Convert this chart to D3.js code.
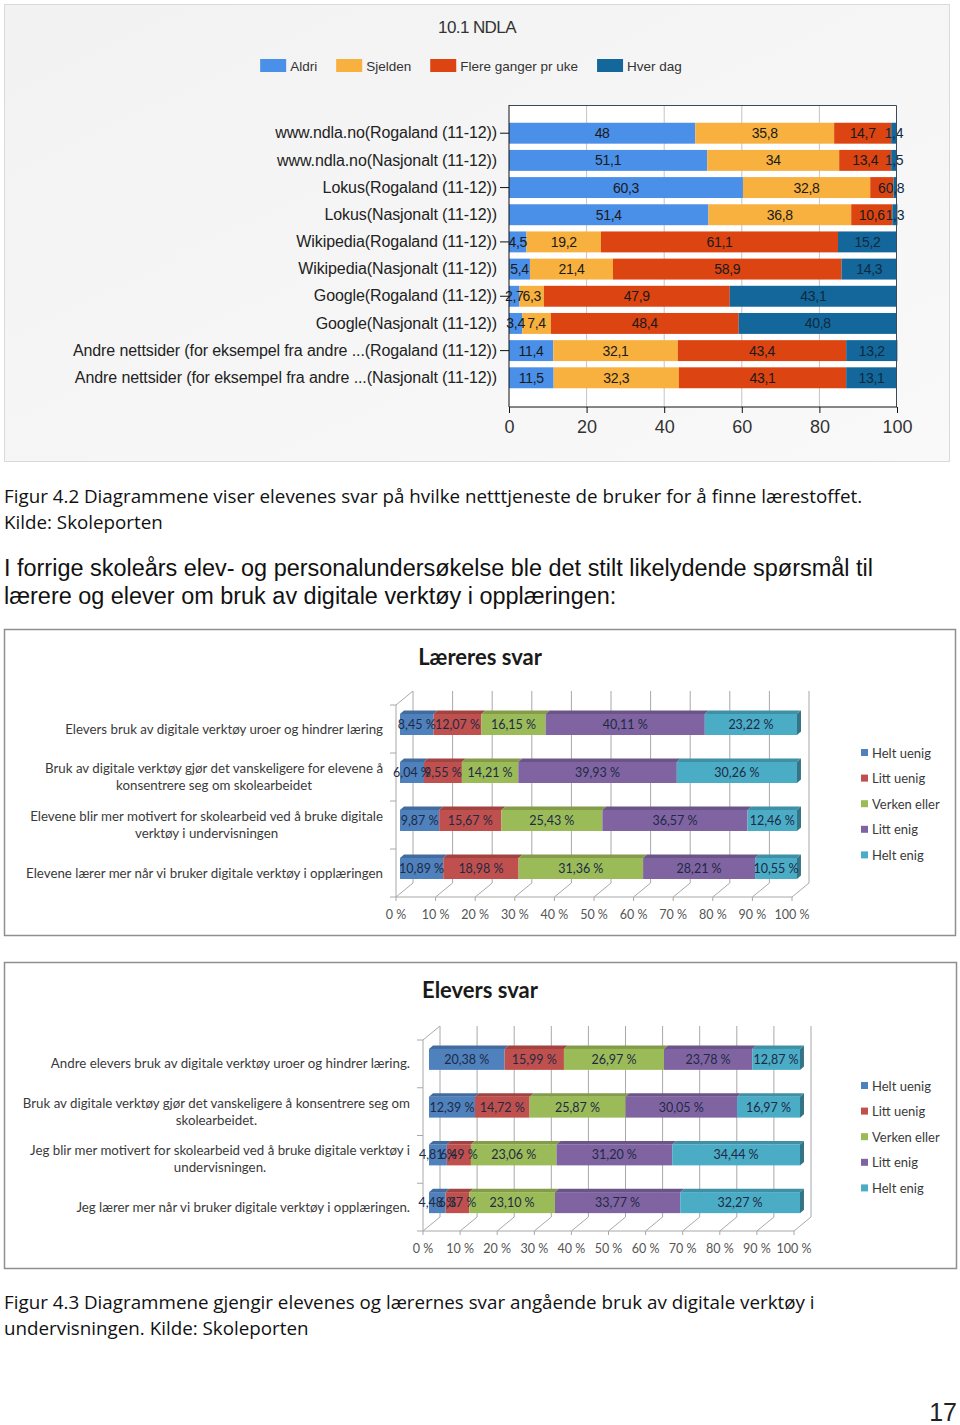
<!DOCTYPE html>
<html><head><meta charset="utf-8">
<script src="https://cdn.jsdelivr.net/npm/d3@7"></script>
<style>body{margin:0;background:#fff}svg{display:block}</style>
</head><body>
<svg id="c" width="960" height="1425"></svg>
<script>
// ---------- DATA ----------
const topTitle = "10.1 NDLA";
const topCategories = [
  "www.ndla.no(Rogaland (11-12))",
  "www.ndla.no(Nasjonalt (11-12))",
  "Lokus(Rogaland (11-12))",
  "Lokus(Nasjonalt (11-12))",
  "Wikipedia(Rogaland (11-12))",
  "Wikipedia(Nasjonalt (11-12))",
  "Google(Rogaland (11-12))",
  "Google(Nasjonalt (11-12))",
  "Andre nettsider (for eksempel fra andre ...(Rogaland (11-12))",
  "Andre nettsider (for eksempel fra andre ...(Nasjonalt (11-12))"
];
const topSeriesNames = ["Aldri", "Sjelden", "Flere ganger pr uke", "Hver dag"];
const topAldri   = [48, 51.1, 60.3, 51.4, 4.5, 5.4, 2.7, 3.4, 11.4, 11.5];
const topSjelden = [35.8, 34, 32.8, 36.8, 19.2, 21.4, 6.3, 7.4, 32.1, 32.3];
const topFlere   = [14.7, 13.4, 6, 10.6, 61.1, 58.9, 47.9, 48.4, 43.4, 43.1];
const topHver    = [1.4, 1.5, 0.8, 1.3, 15.2, 14.3, 43.1, 40.8, 13.2, 13.1];
const topTicks = [0, 20, 40, 60, 80, 100];

const likertNames = ["Helt uenig", "Litt uenig", "Verken eller", "Litt enig", "Helt enig"];
const pctTicks = [0, 10, 20, 30, 40, 50, 60, 70, 80, 90, 100];

const teacherTitle = "Læreres svar";
const teacherCategories = [
  ["Elevers bruk av digitale verktøy uroer og hindrer læring"],
  ["Bruk av digitale verktøy gjør det vanskeligere for elevene å", "konsentrere seg om skolearbeidet"],
  ["Elevene blir mer motivert for skolearbeid ved å bruke digitale", "verktøy i undervisningen"],
  ["Elevene lærer mer når vi bruker digitale verktøy i opplæringen"]
];
const teacherHeltUenig  = [8.45, 6.04, 9.87, 10.89];
const teacherLittUenig  = [12.07, 9.55, 15.67, 18.98];
const teacherVerken     = [16.15, 14.21, 25.43, 31.36];
const teacherLittEnig   = [40.11, 39.93, 36.57, 28.21];
const teacherHeltEnig   = [23.22, 30.26, 12.46, 10.55];

const studentTitle = "Elevers svar";
const studentCategories = [
  ["Andre elevers bruk av digitale verktøy uroer og hindrer læring."],
  ["Bruk av digitale verktøy gjør det vanskeligere å konsentrere seg om", "skolearbeidet."],
  ["Jeg blir mer motivert for skolearbeid ved å bruke digitale verktøy i", "undervisningen."],
  ["Jeg lærer mer når vi bruker digitale verktøy i opplæringen."]
];
const studentHeltUenig = [20.38, 12.39, 4.81, 4.48];
const studentLittUenig = [15.99, 14.72, 6.49, 6.37];
const studentVerken    = [26.97, 25.87, 23.06, 23.10];
const studentLittEnig  = [23.78, 30.05, 31.20, 33.77];
const studentHeltEnig  = [12.87, 16.97, 34.44, 32.27];

const caption1 = ["Figur 4.2  Diagrammene viser elevenes svar på hvilke netttjeneste de bruker for å finne lærestoffet.", "Kilde: Skoleporten"];
const paragraph = ["I forrige skoleårs elev- og personalundersøkelse ble det stilt likelydende spørsmål til", "lærere og elever om bruk av digitale verktøy i opplæringen:"];
const caption2 = ["Figur 4.3  Diagrammene gjengir elevenes og lærernes svar angående bruk av digitale verktøy i", "undervisningen. Kilde: Skoleporten"];
const pageNumber = "17";

// ---------- STYLE ----------
const CAL = "Lato, 'Open Sans', sans-serif";
const CAP = "'Open Sans', Lato, sans-serif";
const ARIAL = "'Liberation Sans', Arial, sans-serif";
const topColors = ["#4a8fe8", "#f8b13f", "#dc4411", "#14679a"];
const likertColors = ["#4f81bd", "#c0504d", "#9bbb59", "#8064a2", "#4bacc6"];

const svg = d3.select("#c");
const fmt1 = v => String(v).replace(".", ",");
const fmt2 = v => v.toFixed(2).replace(".", ",") + " %";

// ---------- TOP CHART ----------
const defs = svg.append("defs");
const lg = defs.append("linearGradient").attr("id", "bg1").attr("x1", 0).attr("y1", 0).attr("x2", 1).attr("y2", 1);
lg.append("stop").attr("offset", 0).attr("stop-color", "#f2f2f2");
lg.append("stop").attr("offset", 1).attr("stop-color", "#f9f9f9");
svg.append("rect").attr("x", 4.5).attr("y", 4.5).attr("width", 945).attr("height", 457)
  .attr("fill", "url(#bg1)").attr("stroke", "#dadada");

svg.append("text").attr("x", 477).attr("y", 33).attr("text-anchor", "middle")
  .attr("font-family", ARIAL).attr("font-size", 17).attr("fill", "#333").attr("letter-spacing", -0.6).text(topTitle);

// legend
const topLeg = svg.append("g").attr("font-family", ARIAL).attr("font-size", 13.5).attr("fill", "#333");
let lx = 0;
topSeriesNames.forEach((n, i) => {
  const g = topLeg.append("g").attr("transform", `translate(${lx},0)`);
  g.append("rect").attr("x", 0).attr("y", -10).attr("width", 26).attr("height", 13).attr("fill", topColors[i]);
  const t = g.append("text").attr("x", 30).attr("y", 1.5).text(n);
  lx += 30 + t.node().getComputedTextLength() + 19;
});
const legW = lx - 19;
topLeg.attr("transform", `translate(${471 - legW / 2},69)`);

const xTop = d3.scaleLinear().domain([0, 100]).range([509, 897]);
const yTop = d3.scaleBand().domain(topCategories).range([116.5, 394.5]).padding(0.23);

svg.append("rect").attr("x", 509).attr("y", 105).attr("width", 388).attr("height", 302).attr("fill", "#fff");
svg.append("g").selectAll("line").data(topTicks.slice(1, -1)).join("line")
  .attr("x1", d => xTop(d)).attr("x2", d => xTop(d)).attr("y1", 105).attr("y2", 407)
  .attr("stroke", "#c4c4c4");

const topRows = topCategories.map((c, i) => ({
  cat: c, [topSeriesNames[0]]: topAldri[i], [topSeriesNames[1]]: topSjelden[i],
  [topSeriesNames[2]]: topFlere[i], [topSeriesNames[3]]: topHver[i]
}));
const topStack = d3.stack().keys(topSeriesNames)(topRows);
const tg = svg.append("g");
topStack.forEach((s, si) => {
  tg.append("g").selectAll("rect").data(s).join("rect")
    .attr("x", d => xTop(d[0])).attr("width", d => xTop(d[1]) - xTop(d[0]))
    .attr("y", d => yTop(d.data.cat)).attr("height", yTop.bandwidth())
    .attr("fill", topColors[si]);
});
topStack.forEach((s, si) => {
  tg.append("g").selectAll("text").data(s).join("text")
    .attr("x", d => (xTop(d[0]) + xTop(d[1])) / 2)
    .attr("y", d => yTop(d.data.cat) + yTop.bandwidth() / 2 + 5)
    .attr("text-anchor", "middle").attr("font-family", ARIAL).attr("font-size", 14)
    .attr("fill", si === 3 ? "#0d2a40" : "#1a1a1a").attr("letter-spacing", -0.3)
    .text(d => fmt1(d.data[topSeriesNames[si]]));
});
// frame top/right
svg.append("path").attr("d", "M509,105.5H896.5V407").attr("fill", "none").attr("stroke", "#3a4a5a");

const axL = svg.append("g").attr("transform", "translate(509,0)")
  .call(d3.axisLeft(yTop).tickSize(9).tickPadding(3));
axL.select(".domain").attr("stroke", "#111").attr("d", "M0,105V407");
axL.selectAll(".tick line").attr("stroke", "#111").attr("opacity", (d, i) => i % 2 === 0 ? 1 : 0);
axL.selectAll(".tick text").attr("font-family", ARIAL).attr("font-size", 16).attr("fill", "#222").attr("letter-spacing", -0.1);

const axB = svg.append("g").attr("transform", "translate(0,407)")
  .call(d3.axisBottom(xTop).tickValues(topTicks).tickSize(6).tickPadding(7));
axB.select(".domain").attr("stroke", "#111").attr("d", "M509,0H897");
axB.selectAll(".tick line").attr("stroke", "#111");
axB.selectAll(".tick text").attr("font-family", ARIAL).attr("font-size", 18).attr("fill", "#333");

// ---------- TEXT ----------
function lines(arr, x, y0, lh, family, size, fill) {
  const g = svg.append("g").attr("font-family", family).attr("font-size", size).attr("fill", fill);
  arr.forEach((t, i) => g.append("text").attr("x", x).attr("y", y0 + i * lh).text(t));
  return g;
}
lines(caption1, 4, 503, 26, CAP, 18.8, "#111");
lines(paragraph, 4, 576, 28, ARIAL, 23.45, "#111");
lines(caption2, 4, 1309, 26, CAP, 18.8, "#111");
svg.append("text").attr("x", 957).attr("y", 1421).attr("text-anchor", "end")
  .attr("font-family", ARIAL).attr("font-size", 25).attr("fill", "#222").text(pageNumber);

// ---------- 3D CHARTS ----------
function draw3D(cfg) {
  const g = svg.append("g");
  g.append("rect").attr("x", 4.5).attr("y", cfg.top + 0.5).attr("width", cfg.panelW).attr("height", cfg.panelH)
    .attr("fill", "#fff").attr("stroke", "#8f8f8f").attr("stroke-width", 1.5);
  g.append("text").attr("x", 480).attr("y", cfg.titleY).attr("text-anchor", "middle")
    .attr("font-family", CAL).attr("font-weight", "bold").attr("font-size", 22).attr("fill", "#1a1a1a").text(cfg.title);

  const fx = d3.scaleLinear().domain([0, 100]).range(cfg.floorX);
  const bx = d3.scaleLinear().domain([0, 100]).range(cfg.barX);
  const y = d3.scaleBand().domain(d3.range(cfg.cats.length)).range([cfg.wallTop, cfg.floorY]);
  const DX = 17, DY = -14;
  const grid = g.append("g").attr("stroke", "#a8a8a8").attr("fill", "none");
  grid.selectAll("line.v").data(pctTicks).join("line").attr("class", "v")
    .attr("x1", d => fx(d) + DX).attr("x2", d => fx(d) + DX)
    .attr("y1", cfg.wallTop + DY).attr("y2", cfg.floorY + DY);
  grid.selectAll("line.f").data(pctTicks).join("line").attr("class", "f")
    .attr("x1", d => fx(d)).attr("x2", d => fx(d) + DX)
    .attr("y1", cfg.floorY).attr("y2", cfg.floorY + DY);
  grid.append("line").attr("x1", fx(0)).attr("x2", fx(100)).attr("y1", cfg.floorY).attr("y2", cfg.floorY);
  grid.append("line").attr("x1", fx(0)).attr("x2", fx(0)).attr("y1", cfg.wallTop).attr("y2", cfg.floorY);
  grid.append("line").attr("x1", fx(0)).attr("x2", fx(0) + DX).attr("y1", cfg.wallTop).attr("y2", cfg.wallTop + DY);
  const bounds = y.domain().map(i => y(i)).concat([cfg.floorY]);
  grid.selectAll("line.t").data(bounds).join("line").attr("class", "t")
    .attr("x1", fx(0) - 6).attr("x2", fx(0)).attr("y1", d => d).attr("y2", d => d);
  grid.selectAll("line.bt").data(pctTicks).join("line").attr("class", "bt")
    .attr("x1", d => fx(d)).attr("x2", d => fx(d)).attr("y1", cfg.floorY).attr("y2", cfg.floorY + 4);

  // x labels
  g.append("g").selectAll("text").data(pctTicks).join("text")
    .attr("x", d => fx(d)).attr("y", cfg.floorY + 22).attr("text-anchor", "middle")
    .attr("font-family", CAL).attr("font-size", 12.5).attr("fill", "#555").text(d => d + " %");

  // bars
  const rows = cfg.cats.map((c, i) => {
    const o = { idx: i };
    likertNames.forEach((n, k) => o[n] = cfg.series[k][i]);
    return o;
  });
  const st = d3.stack().keys(likertNames)(rows);
  const H = 21, BX = 4, BY = -3.5;
  const bars = g.append("g");
  const topOf = d => y(d.data.idx) + y.bandwidth() / 2 - 4.5 - H / 2;
  st.forEach((s, si) => {
    const col = d3.color(likertColors[si]);
    const sg = bars.append("g");
    sg.selectAll("polygon.top").data(s).join("polygon").attr("class", "top")
      .attr("points", d => {
        const x0 = bx(d[0]), x1 = bx(d[1]), t = topOf(d);
        return [[x0, t], [x0 + BX, t + BY], [x1 + BX, t + BY], [x1, t]].join(" ");
      }).attr("fill", col.darker(0.5));
    sg.selectAll("rect").data(s).join("rect")
      .attr("x", d => bx(d[0])).attr("width", d => bx(d[1]) - bx(d[0]))
      .attr("y", d => topOf(d)).attr("height", H).attr("fill", col);
    if (si === likertNames.length - 1) {
      sg.selectAll("polygon.side").data(s).join("polygon").attr("class", "side")
        .attr("points", d => {
          const x1 = bx(d[1]), t = topOf(d);
          return [[x1, t], [x1 + BX, t + BY], [x1 + BX, t + H + BY], [x1, t + H]].join(" ");
        }).attr("fill", col.darker(1.1));
    }
  });
  st.forEach((s, si) => {
    bars.append("g").selectAll("text").data(s).join("text")
      .attr("x", d => (bx(d[0]) + bx(d[1])) / 2).attr("y", d => topOf(d) + H / 2 + 4.5)
      .attr("text-anchor", "middle").attr("font-family", CAL).attr("font-size", 12.5)
      .attr("fill", "#1e2a45").text(d => fmt2(d.data[likertNames[si]]));
  });

  // category labels
  const lab = g.append("g").attr("font-family", CAL).attr("font-size", 13.3).attr("fill", "#3a3a3a");
  cfg.cats.forEach((ls, i) => {
    const cy = y(i) + y.bandwidth() / 2;
    const tmp = ls.map(t => lab.append("text").attr("text-anchor", "middle").text(t));
    const w = d3.max(tmp, t => t.node().getComputedTextLength());
    const cx = cfg.labelRight - w / 2;
    tmp.forEach((t, k) => t.attr("x", cx).attr("y", cy + 4.5 + (k - (ls.length - 1) / 2) * 17));
  });

  // legend
  const leg = g.append("g").attr("font-family", CAL).attr("font-size", 13).attr("fill", "#3a3a3a");
  likertNames.forEach((n, k) => {
    const yy = cfg.legendY0 + k * 25.6;
    leg.append("rect").attr("x", 861).attr("y", yy - 4).attr("width", 7).attr("height", 7).attr("fill", likertColors[k]);
    leg.append("text").attr("x", 872).attr("y", yy + 4.5).text(n);
  });
}

draw3D({
  top: 629, panelW: 951, panelH: 306, title: teacherTitle, titleY: 665,
  cats: teacherCategories,
  series: [teacherHeltUenig, teacherLittUenig, teacherVerken, teacherLittEnig, teacherHeltEnig],
  floorX: [396, 792], barX: [400, 797], wallTop: 705, floorY: 897, labelRight: 383, legendY0: 753
});
draw3D({
  top: 962, panelW: 952, panelH: 306, title: studentTitle, titleY: 998,
  cats: studentCategories,
  series: [studentHeltUenig, studentLittUenig, studentVerken, studentLittEnig, studentHeltEnig],
  floorX: [423, 794], barX: [429, 800], wallTop: 1040, floorY: 1231, labelRight: 410, legendY0: 1086
});
</script>
</body></html>
